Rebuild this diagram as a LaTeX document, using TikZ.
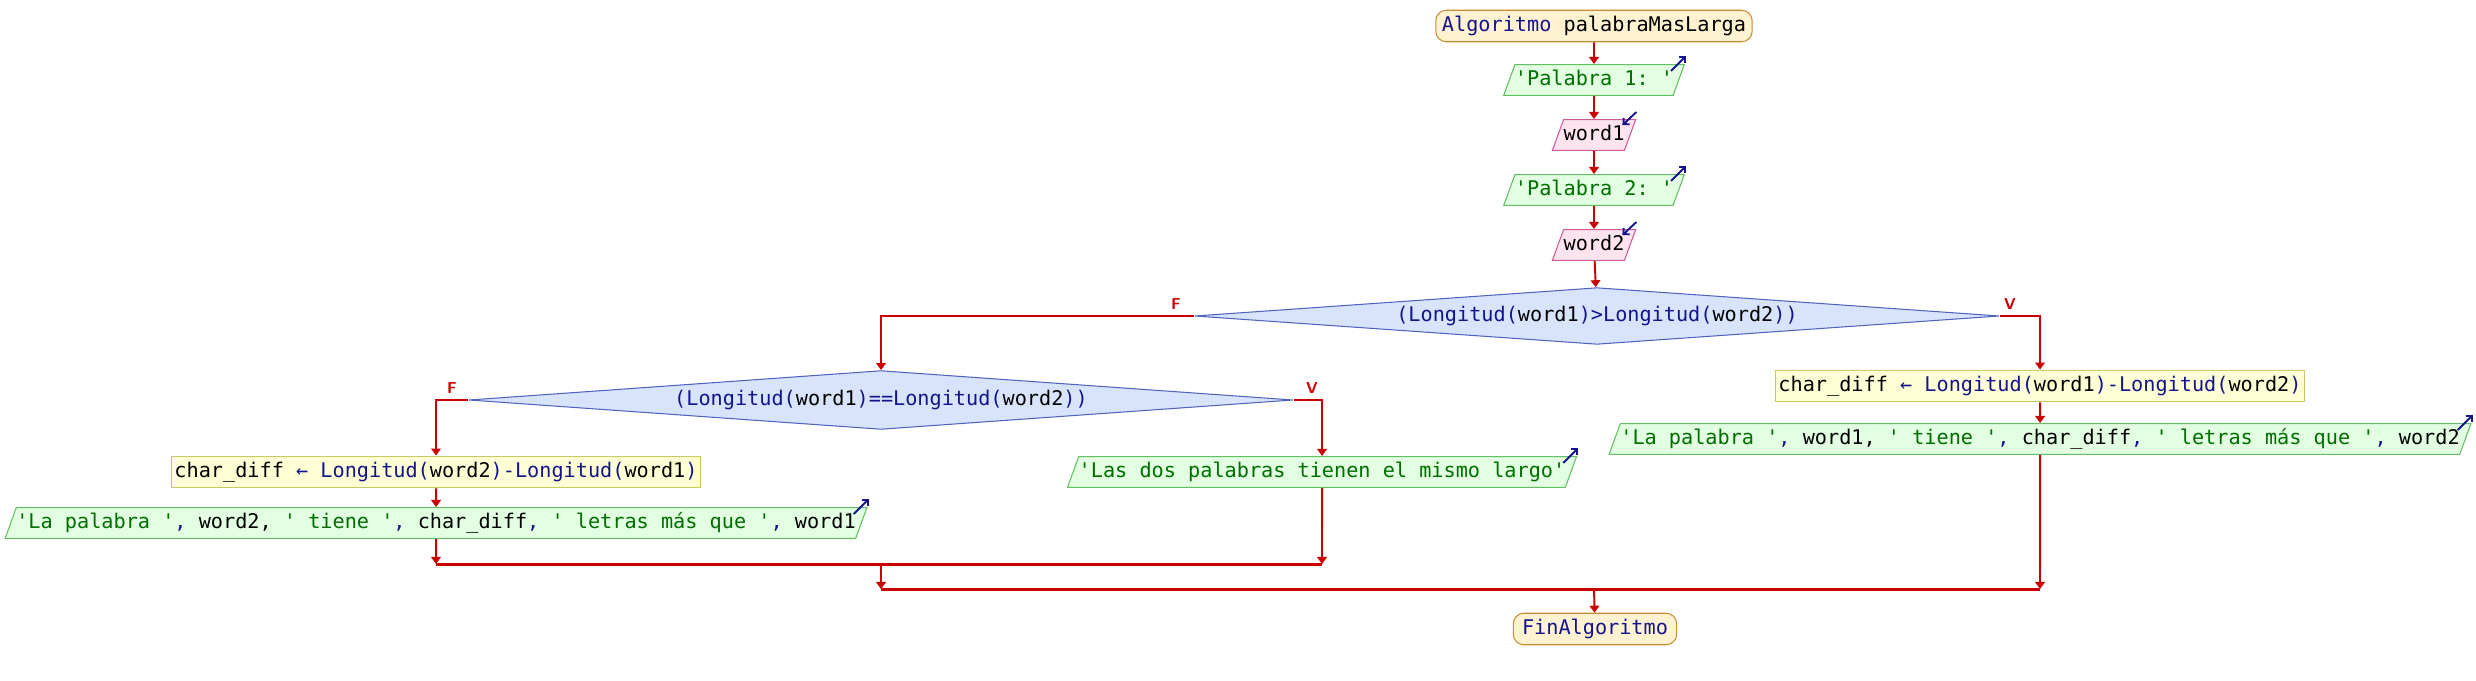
\documentclass[tikz,border=0pt]{standalone}
\usepackage{fontspec}
\setmonofont{DejaVu Sans Mono}
\usepackage{tikz}
\usetikzlibrary{shapes.geometric, arrows.meta}

\definecolor{psblue}{RGB}{20,20,140}
\definecolor{psgreen}{RGB}{0,110,0}
\definecolor{flowred}{RGB}{204,0,0}
\definecolor{termfill}{RGB}{255,242,208}
\definecolor{termline}{RGB}{200,140,50}
\definecolor{outfill}{RGB}{226,255,226}
\definecolor{outline}{RGB}{100,190,100}
\definecolor{infill}{RGB}{255,228,240}
\definecolor{inline}{RGB}{210,90,150}
\definecolor{condfill}{RGB}{215,228,252}
\definecolor{condline}{RGB}{80,100,190}
\definecolor{procfill}{RGB}{255,255,214}
\definecolor{procline}{RGB}{200,200,100}

\newcommand{\pkw}[1]{\textcolor{psblue}{#1}}
\newcommand{\pstr}[1]{\textcolor{psgreen}{#1}}

\begin{document}
\begin{tikzpicture}[x=0.02cm, y=-0.02cm,
  every node/.style={font=\ttfamily\fontsize{11.5}{13}\selectfont},
  terminal/.style={draw=termline, fill=termfill, rounded corners=6pt, minimum height=17pt, inner xsep=3.5pt, line width=0.6pt},
  outbox/.style={trapezium, trapezium left angle=70, trapezium right angle=110, draw=outline, fill=outfill,
    text height=9pt, text depth=2.8pt, inner ysep=2.9pt, inner xsep=0pt, line width=0.6pt},
  inbox/.style={outbox, draw=inline, fill=infill},
  procbox/.style={draw=procline, fill=procfill, minimum height=16.5pt, inner xsep=1.5pt, line width=0.6pt},
  cond/.style={diamond, aspect=14, draw=condline, fill=condfill, inner sep=0pt, line width=0.6pt},
  flow/.style={draw=flowred, line width=1.1pt, -{Triangle[width=5.5pt,length=4pt]}},
  mergeline/.style={draw=flowred, line width=1.7pt},
  branch/.style={text=flowred, font=\sffamily\bfseries\small, inner sep=1pt},
  ioarrow/.style={draw=psblue, line width=1.1pt, -{Straight Barb[length=2.5pt,width=5pt]}}]
  \useasboundingbox (0,0) rectangle (2476,680);

  % main column
  \node[terminal] (start) at (1594,26) {\pkw{Algoritmo} palabraMasLarga};
  \node[outbox] (outA) at (1594,80) {\pstr{'Palabra 1: '}};
  \node[inbox] (inA) at (1594,135) {word1};
  \node[outbox] (outB) at (1594,190) {\pstr{'Palabra 2: '}};
  \node[inbox] (inB) at (1594,245) {word2};
  \node[cond, minimum width=458pt, minimum height=32.3pt] (cmpA) at (1597,316) {\pkw{(Longitud(}word1\pkw{)>Longitud(}word2\pkw{))}};

  % right branch
  \node[procbox] (diffR) at (2040,386) {char\_diff \pkw{← Longitud(}word1\pkw{)-Longitud(}word2\pkw{)}};
  \node[outbox] (msgR) at (2040,439) {\pstr{'La palabra '}\pkw{,} word1, \pstr{' tiene '}\pkw{,} char\_diff\pkw{,} \pstr{' letras más que '}\pkw{,} word2};

  % left branch
  \node[cond, minimum width=469pt, minimum height=33.5pt] (cmpB) at (881,400) {\pkw{(Longitud(}word1\pkw{)==Longitud(}word2\pkw{))}};
  \node[procbox] (diffL) at (436,472) {char\_diff \pkw{← Longitud(}word2\pkw{)-Longitud(}word1\pkw{)}};
  \node[outbox] (msgL) at (436,523) {\pstr{'La palabra '}\pkw{,} word2, \pstr{' tiene '}\pkw{,} char\_diff\pkw{,} \pstr{' letras más que '}\pkw{,} word1};
  \node[outbox] (msgEq) at (1322,472) {\pstr{'Las dos palabras tienen el mismo largo'}};

  \node[terminal, minimum width=93pt] (stop) at (1595,629) {\pkw{FinAlgoritmo}};

  % merge points
  \coordinate (mergeAL) at (436,564);
  \coordinate (mergeAR) at (1322,564);
  \coordinate (mergeA) at (881,564);
  \coordinate (mergeBL) at (881,589);
  \coordinate (mergeBR) at (2040,589);
  \coordinate (mergeB) at (1594,589);

  % branch labels
  \node[branch] (fA) at (1176,304) {F};
  \node[branch] (vA) at (2010,304) {V};
  \node[branch] (fB) at (452,388) {F};
  \node[branch] (vB) at (1312,388) {V};

  % connectors
  \draw[flow] (start) -- (outA);
  \draw[flow] (outA) -- (inA);
  \draw[flow] (inA) -- (outB);
  \draw[flow] (outB) -- (inB);
  \draw[flow] (inB) -- (cmpA);
  \draw[flow] (cmpA.east) -| (diffR.north);
  \draw[flow] (diffR) -- (msgR);
  \draw[flow] (cmpA.west) -| (cmpB.north);
  \draw[flow] (cmpB.west) -| (diffL.north);
  \draw[flow] (diffL) -- (msgL);
  \draw[flow] (cmpB.east) -| (msgEq.north);
  \draw[flow] (msgL.south) -- (mergeAL);
  \draw[flow] (msgEq.south) -- (mergeAR);
  \draw[mergeline] (mergeAL) -- (mergeAR);
  \draw[flow] (mergeA) -- (mergeBL);
  \draw[flow] (msgR.south) -- (mergeBR);
  \draw[mergeline] (mergeBL) -- (mergeBR);
  \draw[flow] (mergeB) -- (stop);

  % input / output marks
  \foreach \io in {outA, outB, msgR, msgL, msgEq}
    \draw[ioarrow] ([shift={(-14,7)}]\io.top right corner) -- ([shift={(1,-8)}]\io.top right corner);
  \foreach \io in {inA, inB}
    \draw[ioarrow] ([shift={(0,-7)}]\io.top right corner) -- ([shift={(-14,6)}]\io.top right corner);
\end{tikzpicture}
\end{document}
